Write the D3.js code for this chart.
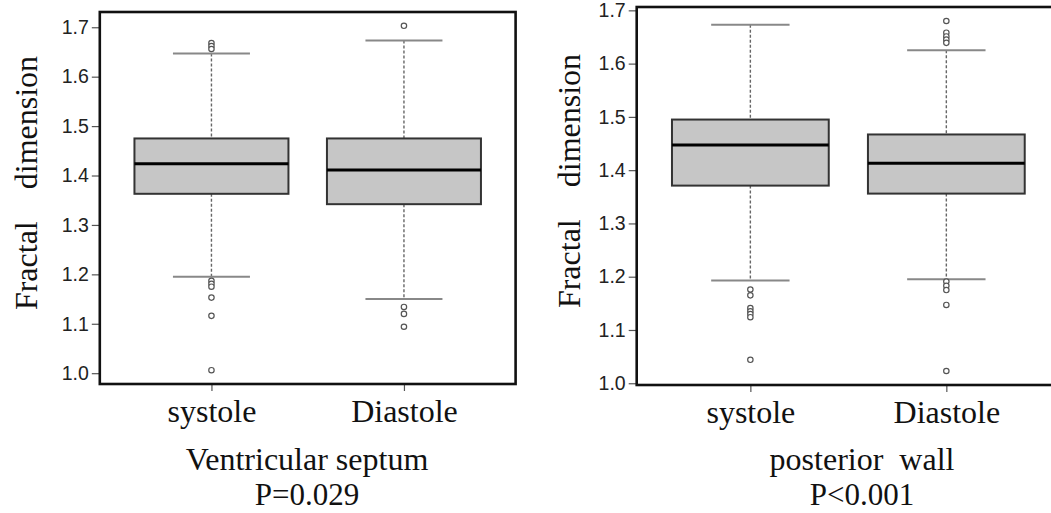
<!DOCTYPE html>
<html>
<head>
<meta charset="utf-8">
<script src="https://cdn.jsdelivr.net/npm/d3@7"></script>
<style>
  body { margin: 0; background: #fff; }
  svg { display: block; }
  .serif { font-family: "Liberation Serif", "Times New Roman", serif; fill: #111; }
</style>
</head>
<body>
<script>
// categories
var groups = ["systole", "Diastole"];
var yTicks = [1.0, 1.1, 1.2, 1.3, 1.4, 1.5, 1.6, 1.7];

// ventricular septum, one value per group
var septumLow = [1.195, 1.150];
var septumQ1 = [1.363, 1.342];
var septumMedian = [1.424, 1.411];
var septumQ3 = [1.475, 1.475];
var septumHigh = [1.647, 1.673];
var septumOutliers = [
  [1.668, 1.662, 1.656, 1.187, 1.181, 1.175, 1.153, 1.116, 1.006],
  [1.703, 1.134, 1.120, 1.094]
];

// posterior wall
var wallLow = [1.193, 1.195];
var wallQ1 = [1.371, 1.356];
var wallMedian = [1.447, 1.413];
var wallQ3 = [1.495, 1.467];
var wallHigh = [1.673, 1.625];
var wallOutliers = [
  [1.176, 1.165, 1.141, 1.135, 1.130, 1.124, 1.044],
  [1.680, 1.658, 1.651, 1.645, 1.639, 1.191, 1.183, 1.175, 1.147, 1.023]
];

var width = 1051, height = 513;

var svg = d3.select("body")
  .append("svg")
  .attr("width", width)
  .attr("height", height);

function boxes(low, q1, med, q3, high, outl) {
  return groups.map(function (g, i) {
    return { name: g, i: i + 1, low: low[i], q1: q1[i], med: med[i], q3: q3[i], high: high[i], out: outl[i] };
  });
}

var panels = [
  {
    data: boxes(septumLow, septumQ1, septumMedian, septumQ3, septumHigh, septumOutliers),
    left: 99.8, right: 515.6, top: 12, bottom: 384,
    titleX: 307, ylabX: 37, ylabY: 183,
    title: "Ventricular septum", p: "P=0.029"
  },
  {
    data: boxes(wallLow, wallQ1, wallMedian, wallQ3, wallHigh, wallOutliers),
    left: 636.7, right: 1060, top: 7, bottom: 385,
    titleX: 862, ylabX: 580, ylabY: 181,
    title: "posterior  wall", p: "P<0.001"
  }
];

panels.forEach(function (p) {
  // R style axis range: data range padded by 4%
  var lo = d3.min(p.data, function (d) { return d3.min([d.low].concat(d.out)); });
  var hi = d3.max(p.data, function (d) { return d3.max([d.high].concat(d.out)); });
  var pad = (hi - lo) * 0.04;

  var y = d3.scaleLinear().domain([lo - pad, hi + pad]).range([p.bottom, p.top]);
  var x = d3.scaleLinear().domain([0.5 - 0.08, groups.length + 0.5 + 0.08]).range([p.left, p.right]);
  var unit = x(2) - x(1);
  var boxW = unit * 0.8;
  var capW = boxW / 2;

  var g = svg.append("g");

  // y axis
  var ya = g.append("g")
    .attr("transform", "translate(" + p.left + ",0)")
    .call(d3.axisLeft(y).tickValues(yTicks).tickFormat(d3.format(".1f")).tickSize(8).tickPadding(3));
  ya.select(".domain").remove();
  ya.selectAll(".tick line").attr("stroke", "#555").attr("stroke-width", 1.2);
  ya.selectAll(".tick text")
    .attr("font-family", "'Liberation Sans', Arial, sans-serif")
    .attr("font-size", 19.5)
    .attr("fill", "#222");

  // x axis
  var xa = g.append("g")
    .attr("transform", "translate(0," + p.bottom + ")")
    .call(d3.axisBottom(x).tickValues([1, 2]).tickFormat(function (d) { return groups[d - 1]; }).tickSize(7).tickPadding(8));
  xa.select(".domain").remove();
  xa.selectAll(".tick line").attr("stroke", "#555").attr("stroke-width", 1.2);
  xa.selectAll(".tick text")
    .attr("class", "serif")
    .attr("font-size", 32)
    .attr("fill", "#111");

  var b = g.selectAll(".box")
    .data(p.data)
    .enter()
    .append("g");

  // dashed whiskers
  b.append("line")
    .attr("x1", function (d) { return x(d.i); })
    .attr("x2", function (d) { return x(d.i); })
    .attr("y1", function (d) { return y(d.high); })
    .attr("y2", function (d) { return y(d.q3); })
    .attr("stroke", "#666")
    .attr("stroke-width", 1.4)
    .attr("stroke-dasharray", "3,2");
  b.append("line")
    .attr("x1", function (d) { return x(d.i); })
    .attr("x2", function (d) { return x(d.i); })
    .attr("y1", function (d) { return y(d.q1); })
    .attr("y2", function (d) { return y(d.low); })
    .attr("stroke", "#666")
    .attr("stroke-width", 1.4)
    .attr("stroke-dasharray", "3,2");

  // caps
  ["high", "low"].forEach(function (k) {
    b.append("line")
      .attr("x1", function (d) { return x(d.i) - capW / 2; })
      .attr("x2", function (d) { return x(d.i) + capW / 2; })
      .attr("y1", function (d) { return y(d[k]); })
      .attr("y2", function (d) { return y(d[k]); })
      .attr("stroke", "#888")
      .attr("stroke-width", 2);
  });

  // box
  b.append("rect")
    .attr("x", function (d) { return x(d.i) - boxW / 2; })
    .attr("y", function (d) { return y(d.q3); })
    .attr("width", boxW)
    .attr("height", function (d) { return y(d.q1) - y(d.q3); })
    .attr("fill", "#c6c6c6")
    .attr("stroke", "#333")
    .attr("stroke-width", 2);

  // median
  b.append("line")
    .attr("x1", function (d) { return x(d.i) - boxW / 2; })
    .attr("x2", function (d) { return x(d.i) + boxW / 2; })
    .attr("y1", function (d) { return y(d.med); })
    .attr("y2", function (d) { return y(d.med); })
    .attr("stroke", "#000")
    .attr("stroke-width", 3);

  // outliers
  b.selectAll("circle")
    .data(function (d) { return d.out.map(function (v) { return { i: d.i, v: v }; }); })
    .enter()
    .append("circle")
    .attr("cx", function (d) { return x(d.i); })
    .attr("cy", function (d) { return y(d.v); })
    .attr("r", 2.7)
    .attr("fill", "#fff")
    .attr("stroke", "#555")
    .attr("stroke-width", 1.2);

  // frame
  g.append("rect")
    .attr("x", p.left)
    .attr("y", p.top)
    .attr("width", p.right - p.left)
    .attr("height", p.bottom - p.top)
    .attr("fill", "none")
    .attr("stroke", "#111")
    .attr("stroke-width", 2.6);

  // y label
  g.append("text")
    .attr("class", "serif")
    .attr("transform", "translate(" + p.ylabX + "," + p.ylabY + ") rotate(-90)")
    .attr("text-anchor", "middle")
    .attr("font-size", 32)
    .style("white-space", "pre")
    .text("Fractal    dimension");

  // titles under panel
  g.append("text")
    .attr("class", "serif")
    .attr("x", p.titleX)
    .attr("y", 470)
    .attr("text-anchor", "middle")
    .attr("font-size", 32)
    .style("white-space", "pre")
    .text(p.title);
  g.append("text")
    .attr("class", "serif")
    .attr("x", p.titleX)
    .attr("y", 505)
    .attr("text-anchor", "middle")
    .attr("font-size", 31)
    .text(p.p);
});
</script>
</body>
</html>
